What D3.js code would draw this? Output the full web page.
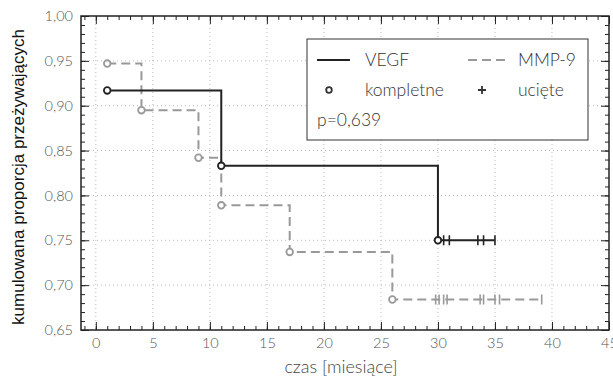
<!DOCTYPE html>
<html>
<head>
<meta charset="utf-8">
<script src="https://cdn.jsdelivr.net/npm/d3@7"></script>
<style>
  body { margin: 0; background: #fff; }
  .tick text { font-family: Lato, "Open Sans", sans-serif; font-weight: 300; font-size: 14.5px; fill: #555; }
  .tick line { stroke: #222; }
  .domain { display: none; }
</style>
</head>
<body>
<div id="chart"></div>
<script>
var svgWidth = 613;
var svgHeight = 378;

var margin = { top: 16, right: 4, bottom: 48, left: 81 };
var width = svgWidth - margin.left - margin.right;
var height = svgHeight - margin.top - margin.bottom;

// data
var xTicks = [0, 5, 10, 15, 20, 25, 30, 35, 40, 45];
var yTicks = [0.65, 0.70, 0.75, 0.80, 0.85, 0.90, 0.95, 1.00];

var vegfTimes = [1, 11, 30];
var vegfSurv = [0.917, 0.833, 0.750];
var vegfCensored = [30.5, 31, 33.5, 34, 35];

var mmpTimes = [1, 4, 9, 11, 17, 26];
var mmpSurv = [0.947, 0.895, 0.842, 0.789, 0.737, 0.684];
var mmpCensored = [29.8, 30.1, 30.5, 30.8, 33.7, 34, 35, 35.4, 39.1];

var svg = d3.select("#chart")
    .append("svg")
    .attr("width", svgWidth)
    .attr("height", svgHeight);

var chartGroup = svg.append("g")
    .attr("transform", `translate(${margin.left}, ${margin.top})`);

var x = d3.scaleLinear().domain([-1.3, 45]).range([0, width]);
var y = d3.scaleLinear().domain([0.65, 1.0]).range([height, 0]);

/********************************************************/
// dotted grid

chartGroup.append("g").selectAll("line")
    .data(xTicks.slice(0, -1))
    .enter().append("line")
    .attr("x1", d => x(d)).attr("x2", d => x(d))
    .attr("y1", 0).attr("y2", height)
    .attr("stroke", "#bbb").attr("stroke-dasharray", "1,3");

chartGroup.append("g").selectAll("line")
    .data(yTicks.slice(1, -1))
    .enter().append("line")
    .attr("x1", 0).attr("x2", width)
    .attr("y1", d => y(d)).attr("y2", d => y(d))
    .attr("stroke", "#bbb").attr("stroke-dasharray", "1,3");

/********************************************************/
// axes, ticks inside on all four sides

var minorX = d3.range(-1, 46, 1);
var minorY = d3.range(0.65, 1.0001, 0.01);
var fmt = d => d3.format(".2f")(d).replace(".", ",");

chartGroup.append("g")
    .attr("transform", `translate(0, ${height})`)
    .call(d3.axisBottom(x).tickValues(minorX).tickSize(-4).tickFormat(""));
chartGroup.append("g")
    .attr("transform", `translate(0, ${height})`)
    .call(d3.axisBottom(x).tickValues(xTicks).tickSize(-8).tickPadding(8));

chartGroup.append("g")
    .call(d3.axisTop(x).tickValues(minorX).tickSize(-4).tickFormat(""));
chartGroup.append("g")
    .call(d3.axisTop(x).tickValues(xTicks).tickSize(-8).tickFormat(""));

chartGroup.append("g")
    .call(d3.axisLeft(y).tickValues(minorY).tickSize(-4).tickFormat(""));
chartGroup.append("g")
    .call(d3.axisLeft(y).tickValues(yTicks).tickSize(-8).tickPadding(8).tickFormat(fmt));

chartGroup.append("g")
    .attr("transform", `translate(${width}, 0)`)
    .call(d3.axisRight(y).tickValues(minorY).tickSize(-4).tickFormat(""));
chartGroup.append("g")
    .attr("transform", `translate(${width}, 0)`)
    .call(d3.axisRight(y).tickValues(yTicks).tickSize(-8).tickFormat(""));

chartGroup.append("rect")
    .attr("width", width).attr("height", height)
    .attr("fill", "none").attr("stroke", "#222").attr("stroke-width", 1.5);

/********************************************************/
// survival curves

function stepPath(times, surv, end) {
    var pts = [[times[0], surv[0]]];
    for (var i = 1; i < times.length; i++) {
        pts.push([times[i], surv[i - 1]]);
        pts.push([times[i], surv[i]]);
    }
    pts.push([end, surv[surv.length - 1]]);
    return d3.line().x(d => x(d[0])).y(d => y(d[1]))(pts);
}

function drawCurve(times, surv, censored, color, dash) {
    var g = chartGroup.append("g");
    var last = surv[surv.length - 1];
    g.append("path")
        .attr("d", stepPath(times, surv, d3.max(censored)))
        .attr("fill", "none")
        .attr("stroke", color)
        .attr("stroke-width", 2)
        .attr("stroke-dasharray", dash);
    g.selectAll("line.cens")
        .data(censored)
        .enter().append("line")
        .attr("x1", d => x(d)).attr("x2", d => x(d))
        .attr("y1", y(last) - 5).attr("y2", y(last) + 5)
        .attr("stroke", color).attr("stroke-width", 1.6);
    g.selectAll("circle")
        .data(times)
        .enter().append("circle")
        .attr("cx", d => x(d))
        .attr("cy", (d, i) => y(surv[i]))
        .attr("r", 3.3)
        .attr("fill", "#fff")
        .attr("stroke", color)
        .attr("stroke-width", 1.8);
}

drawCurve(mmpTimes, mmpSurv, mmpCensored, "#999", "9,5");
drawCurve(vegfTimes, vegfSurv, vegfCensored, "#222", null);

/********************************************************/
// legend

var lg = svg.append("g").attr("transform", "translate(307, 39)");
var lgFont = "Lato, 'Open Sans', sans-serif";
lg.append("rect").attr("width", 281).attr("height", 101)
    .attr("fill", "#fff").attr("stroke", "#333").attr("stroke-width", 1);
lg.append("line").attr("x1", 10).attr("x2", 43).attr("y1", 21).attr("y2", 21)
    .attr("stroke", "#222").attr("stroke-width", 1.8);
lg.append("line").attr("x1", 161).attr("x2", 202).attr("y1", 21).attr("y2", 21)
    .attr("stroke", "#999").attr("stroke-width", 1.8).attr("stroke-dasharray", "9,5");
lg.append("circle").attr("cx", 22).attr("cy", 51).attr("r", 2.8)
    .attr("fill", "#fff").attr("stroke", "#333").attr("stroke-width", 1.8);
lg.append("path").attr("d", "M171,51h8M175,47v8")
    .attr("stroke", "#333").attr("stroke-width", 1.8);

var legendTexts = [
    { t: "VEGF", x: 58, y: 27 },
    { t: "MMP-9", x: 211, y: 27 },
    { t: "kompletne", x: 58, y: 57 },
    { t: "ucięte", x: 211, y: 57 },
    { t: "p=0,639", x: 10, y: 87 }
];
lg.selectAll("text.lt")
    .data(legendTexts)
    .enter().append("text")
    .attr("x", d => d.x).attr("y", d => d.y)
    .attr("font-family", lgFont).attr("font-weight", 300)
    .attr("font-size", 17.5).attr("fill", "#333")
    .text(d => d.t);

/********************************************************/
// axis titles

svg.append("text")
    .attr("transform", `translate(${margin.left + width / 2 - 4}, 373)`)
    .attr("text-anchor", "middle")
    .attr("font-family", lgFont).attr("font-weight", 300)
    .attr("font-size", 18).attr("fill", "#444")
    .text("czas [miesiące]");

svg.append("text")
    .attr("transform", `translate(24, ${margin.top + height / 2 + 4}) rotate(-90)`)
    .attr("text-anchor", "middle")
    .attr("font-family", "'Liberation Sans', Arial, sans-serif")
    .attr("font-size", 17).attr("fill", "#111")
    .text("kumulowana proporcja przeżywających");
</script>
</body>
</html>
